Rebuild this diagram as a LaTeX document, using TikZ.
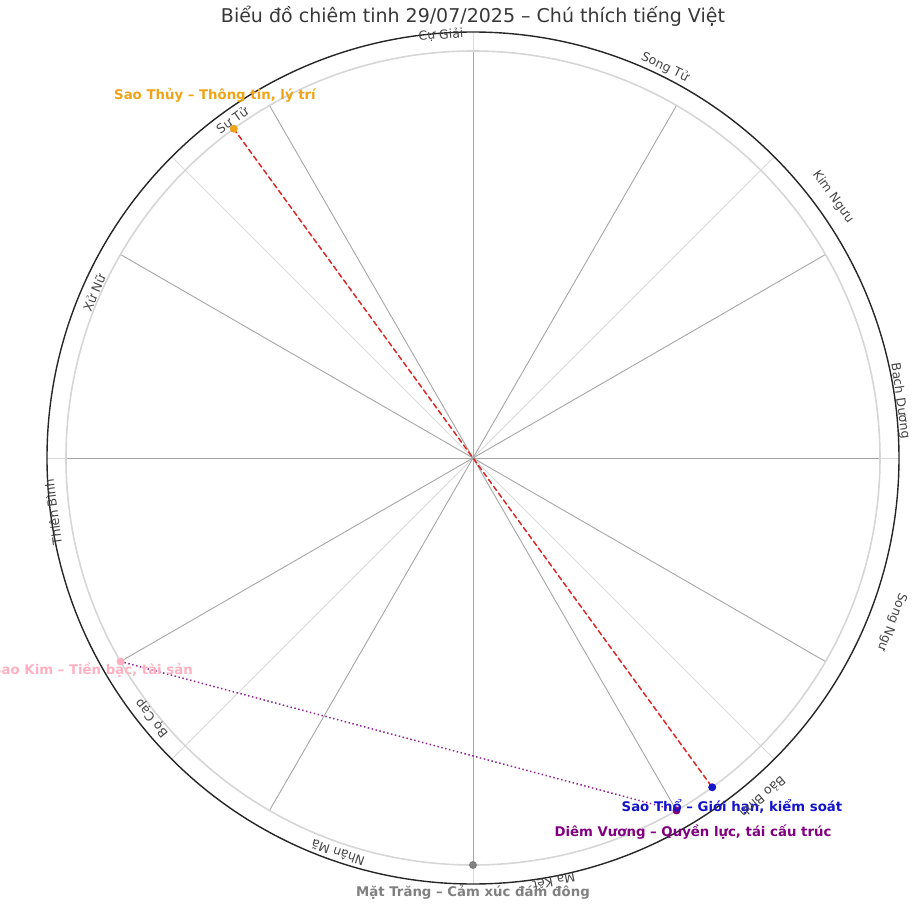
\documentclass[tikz,border=0pt]{standalone}
\usepackage{fontspec}
\setmainfont{DejaVu Sans}
\definecolor{lightgrid}{HTML}{DADADA}
\definecolor{signgrid}{HTML}{A6A6A6}
\definecolor{ringgray}{HTML}{D6D6D6}
\definecolor{thuycol}{HTML}{F0A316}
\definecolor{kimcol}{HTML}{FFB0C0}
\definecolor{thocol}{HTML}{1414C8}
\definecolor{dvcol}{HTML}{800080}
\definecolor{trangcol}{HTML}{808080}
\definecolor{aspred}{HTML}{DC2828}
\begin{document}
\begin{tikzpicture}[x=1pt,y=1pt,line join=round,line cap=round,font=\fontsize{12.5}{14}\selectfont,
	signlbl/.style={text=black!72,inner sep=0pt},
	planetlbl/.style={font=\fontsize{13.3}{15}\selectfont\bfseries,inner sep=0pt},
	pdot/.style={circle,inner sep=0pt,minimum size=8pt}]
		\useasboundingbox (-473,-464) rectangle (444,458);
		\def\R{407}
		\def\Rmax{426}
		\coordinate (O) at (0,0);
		% luoi goc
		\foreach \a in {0,45,...,315}
		\draw[lightgrid,line width=0.8pt] (O)--(\a:\Rmax);
		\foreach \a in {0,30,...,330}
		\draw[signgrid,line width=0.9pt] (O)--(\a:\R);
		\draw[ringgray,line width=1.6pt] (O) circle (\R pt);
		\draw[black!85,line width=1.4pt] (O) circle (\Rmax pt);
		% hanh tinh
		\coordinate (thuy) at (126:\R);
		\coordinate (kim) at (210:\R);
		\coordinate (tho) at (306:\R);
		\coordinate (diemvuong) at (300:\R);
		\coordinate (trang) at (270:\R);
		\draw[aspred,line width=1.5pt,dash pattern=on 5pt off 3.5pt] (thuy)--(tho);
		\draw[dvcol!85,line width=1.5pt,dash pattern=on 1.5pt off 2.5pt,line cap=butt] (kim)--(diemvuong);
		\node[pdot,fill=thuycol] (dthuy) at (thuy) {};
		\node[pdot,fill=kimcol] (dkim) at (kim) {};
		\node[pdot,fill=thocol] (dtho) at (tho) {};
		\node[pdot,fill=dvcol] (ddv) at (diemvuong) {};
		\node[pdot,fill=trangcol] (dtrang) at (trang) {};
		\node[planetlbl,text=thuycol] (lthuy) at (-258,363) {Sao Thủy – Thông tin, lý trí};
		\node[planetlbl,text=kimcol,anchor=east] (lkim) at (-280,-212) {Sao Kim – Tiền bạc, tài sản};
		\node[planetlbl,text=thocol] (ltho) at (259,-349) {Sao Thổ – Giới hạn, kiểm soát};
		\node[planetlbl,text=dvcol] (ldv) at (220,-374) {Diêm Vương – Quyền lực, tái cấu trúc};
		% cung hoang dao
		\foreach \x/\y/\r/\t [count=\i] in {427/57/-82/Bạch Dương,360/261/-54/Kim Ngưu,192/391/-26/Song Tử,
			-32/423/4/Cự Giải,-241/338/35.5/Sư Tử,-379/165/66.5/Xử Nữ,-420/-54/97.3/Thiên Bình,
			-321/-260/129/Bọ Cạp,-135/-395/161/Nhân Mã,81/-424/191/Ma Kết,290/-339/220.5/Bảo Bình,419/-164/249/Song Ngư}
		\node[signlbl,rotate=\r] (sign\i) at (\x,\y) {\t};
		\node[planetlbl,text=trangcol] (ltrang) at (0,-434) {Mặt Trăng – Cảm xúc đám đông};
		\node[font=\fontsize{19}{22}\selectfont,text=black!78,inner sep=0pt] (title) at (0,442) {Biểu đồ chiêm tinh 29/07/2025 – Chú thích tiếng Việt};
\end{tikzpicture}
\end{document}
